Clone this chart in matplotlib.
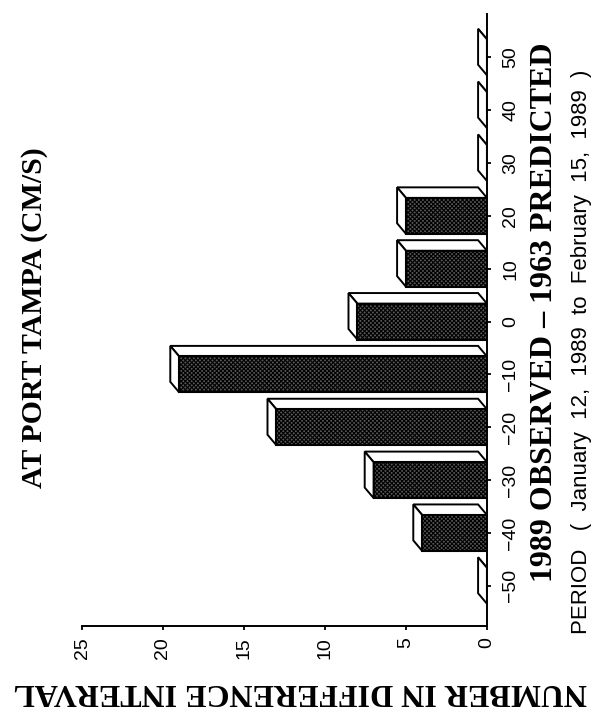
import matplotlib
matplotlib.use("Agg")
import matplotlib.pyplot as plt
from matplotlib.patches import Polygon

# difference intervals (cm/s) and counts
intervals = [-50, -40, -30, -20, -10, 0, 10, 20, 30, 40, 50]
counts = [0, 4, 7, 13, 19, 8, 5, 5, 0, 0, 0]
count_ticks = [0, 5, 10, 15, 20, 25]

title = "AT PORT TAMPA (CM/S)"
xcaption = "1989 OBSERVED \u2013 1963 PREDICTED"
period = "PERIOD   (  January  12,  1989  to  February  15,  1989  )"
ycaption = "NUMBER IN DIFFERENCE INTERVAL"

plt.rcParams["hatch.color"] = "#151515"
plt.rcParams["hatch.linewidth"] = 0.8

W, H = 597, 717
fig = plt.figure(figsize=(W / 100, H / 100), dpi=100)
fig.patch.set_facecolor("white")

# the whole chart is turned a quarter turn: bars grow to the left
ax = fig.add_axes([82 / W, (H - 626) / H, (487 - 82) / W, (626 - 14) / H])
ax.set_xlim(25, 0)
ax.set_ylim(-57.6, 58.2)

bar_h = 6.8
dx, dy = 0.55, 2.0  # depth of the fake 3-D ledge, in data units

ax.barh(intervals, counts, height=bar_h, left=0, color="#585858",
        edgecolor="black", hatch="xxxxxxxx", linewidth=1.5, zorder=3)

for c, v in zip(intervals, counts):
    yt, yb = c + bar_h / 2, c - bar_h / 2
    top = Polygon([(0, yt), (v, yt), (v + dx, yt + dy), (dx, yt + dy)],
                  closed=True, facecolor="white", edgecolor="black",
                  linewidth=1.4, zorder=2)
    side = Polygon([(v, yb), (v, yt), (v + dx, yt + dy), (v + dx, yb + dy)],
                   closed=True, facecolor="white", edgecolor="black",
                   linewidth=1.4, zorder=2)
    ax.add_patch(top)
    ax.add_patch(side)

for s in ("top", "left"):
    ax.spines[s].set_visible(False)
for s in ("bottom", "right"):
    ax.spines[s].set_linewidth(1.4)
ax.spines["right"].set_zorder(4)

ax.yaxis.tick_right()
ax.set_yticks(intervals)
ax.set_yticklabels([f"{i}".replace("-", "\u2212") for i in intervals],
                   rotation=90, va="center", ha="left",
                   family="Liberation Sans", fontsize=14)
ax.tick_params(axis="y", direction="out", length=3, width=1.3, pad=8)

ax.set_xticks(count_ticks)
ax.set_xticklabels([str(t) for t in count_ticks], rotation=90,
                   family="Liberation Sans", fontsize=14)
ax.tick_params(axis="x", direction="out", length=3, width=1.3, pad=5)

serif = dict(family="Liberation Serif", weight="bold")
fig.text(35 / W, 1 - 318 / H, title, rotation=90, ha="center", va="center",
         fontsize=21.5, **serif)
fig.text(545 / W, 1 - 312 / H, xcaption, rotation=90, ha="center",
         va="center", fontsize=23, **serif)
fig.text(581 / W, 1 - 352 / H, period, rotation=90, ha="center", va="center",
         family="Liberation Sans", fontsize=16)
fig.text(300 / W, 1 - 692 / H, ycaption, rotation=180, ha="center",
         va="center", fontsize=23, **serif)

fig.savefig("out.png", dpi=100)
